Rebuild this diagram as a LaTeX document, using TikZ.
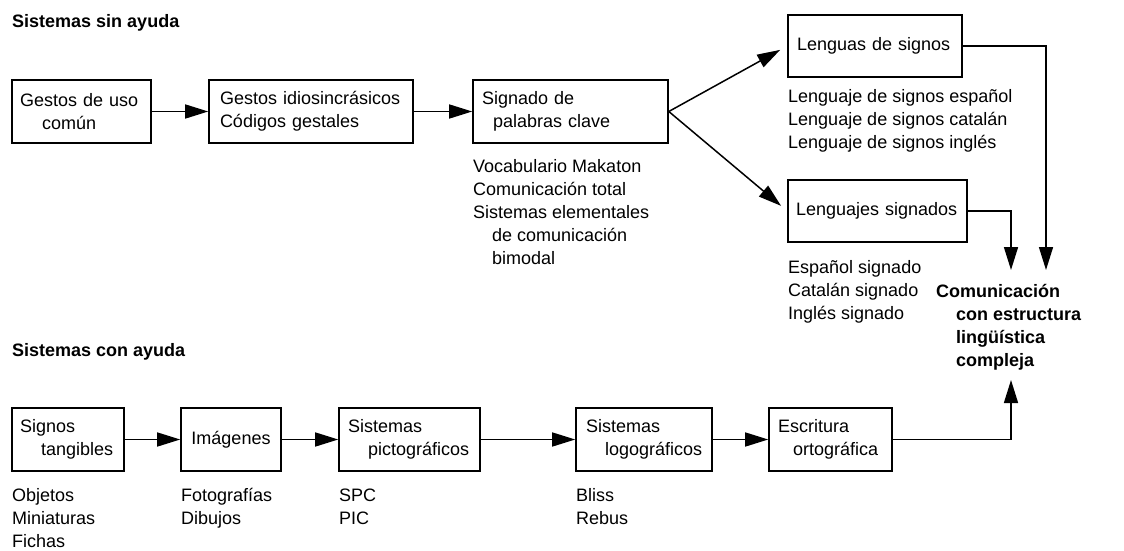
\documentclass[tikz,border=0pt]{standalone}
\usepackage{fontspec}
\setmainfont{Liberation Sans}
\usetikzlibrary{arrows.meta}
\begin{document}
\begin{tikzpicture}[x=1pt,y=-1pt,
  every node/.style={font=\fontsize{18}{23}\selectfont},
  box/.style={draw, line width=1.6pt, inner ysep=0pt, minimum height=63pt, align=left, anchor=center},
  lbl/.style={inner sep=0pt, anchor=base west, align=left},
  hd/.style={inner sep=0pt, anchor=base west, font=\fontsize{18}{23}\selectfont\bfseries, align=left},
  arr/.style={line width=1.5pt, -{Triangle[length=23pt,width=14pt]}}]
\useasboundingbox (0,0) rectangle (1124,551);

% headings
\node[hd] (h1) at (12,28) {Sistemas sin ayuda};
\node[hd] (h2) at (12,356) {Sistemas con ayuda};

% top row
\node[box, inner xsep=8pt, text width=123pt] (g1) at (81.5,111.5)
  {\mbox{Gestos de uso}\\\mbox{\hspace{22pt}común}};
\node[box, inner xsep=11pt, text width=182pt] (g2) at (311,111.5)
  {\mbox{Gestos idiosincrásicos}\\\mbox{Códigos gestales}};
\node[box, inner xsep=9pt, text width=177pt] (g3) at (570.5,111.5)
  {\mbox{Signado de}\\\mbox{\hspace{11pt}palabras clave}};
\node[box, inner xsep=9pt, text width=156pt, minimum height=62pt] (ls) at (875,46)
  {\mbox{Lenguas de signos}};
\node[box, inner xsep=8pt, text width=163pt, minimum height=62pt] (lj) at (877.5,211)
  {\mbox{Lenguajes signados}};

% bottom row
\node[box, inner xsep=8pt, text width=96pt] (s1) at (68,439.5)
  {\mbox{Signos}\\\mbox{\hspace{21pt}tangibles}};
\node[box, inner sep=0pt, minimum width=100pt, align=center] (s2) at (231,439.5)
  {Imágenes};
\node[box, inner xsep=9pt, text width=123pt] (s3) at (409.5,439.5)
  {\mbox{Sistemas}\\\mbox{\hspace{20pt}pictográficos}};
\node[box, inner xsep=10pt, text width=116pt] (s4) at (644,439.5)
  {\mbox{Sistemas}\\\mbox{\hspace{19pt}logográficos}};
\node[box, inner xsep=9pt, text width=105pt] (s5) at (830.5,439.5)
  {\mbox{Escritura}\\\mbox{\hspace{15pt}ortográfica}};

% lists (base anchor = last line baseline)
\node[lbl] (l3) at (473,264) {Vocabulario Makaton\\Comunicación total\\Sistemas elementales\\\hspace*{19pt}de comunicación\\\hspace*{19pt}bimodal};
\node[lbl] (lls) at (788,148) {Lenguaje de signos español\\Lenguaje de signos catalán\\Lenguaje de signos inglés};
\node[lbl] (llj) at (788,319) {Español signado\\Catalán signado\\Inglés signado};
\node[lbl] (ls1) at (12,547) {Objetos\\Miniaturas\\Fichas};
\node[lbl] (ls2) at (181,524) {Fotografías\\Dibujos};
\node[lbl] (ls3) at (339,524) {SPC\\PIC};
\node[lbl] (ls4) at (576,524) {Bliss\\Rebus};

% target
\node[hd] (com) at (936,366) {Comunicación\\\hspace*{20pt}con estructura\\\hspace*{20pt}lingüística\\\hspace*{20pt}compleja};

% connectors
\draw[arr] (g1) -- (g2);
\draw[arr] (g2) -- (g3);
\draw[arr, shorten >=8pt] (g3.east) -- (ls.west);
\draw[arr, shorten >=8pt] (g3.east) -- (lj.west);
\draw[arr] (s1) -- (s2);
\draw[arr] (s2) -- (s3);
\draw[arr] (s3) -- (s4);
\draw[arr] (s4) -- (s5);

\coordinate (t1) at (1046,270);
\coordinate (t2) at (1011,270);
\coordinate (t3) at (1011,380);
\draw[arr] (ls.east) -| (t1);
\draw[arr] (lj.east) -| (t2);
\draw[arr] (s5.east) -| (t3);
\end{tikzpicture}
\end{document}
